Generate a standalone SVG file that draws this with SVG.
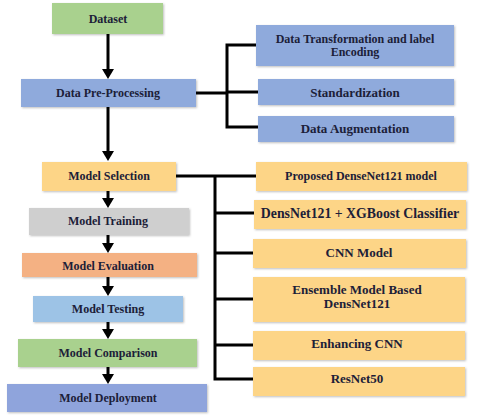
<svg xmlns="http://www.w3.org/2000/svg" width="480" height="418" viewBox="0 0 480 418">
<defs>
<style>
text{font-family:"Liberation Serif","Times New Roman",serif;font-weight:bold;fill:#1c2038;text-anchor:middle;dominant-baseline:central}
.box{filter:url(#sh)}
.ln{stroke:#000;stroke-width:3;fill:none}
.arr{stroke:#000;stroke-width:3;fill:none;marker-end:url(#ah)}
.t12{font-size:12px}
.t13{font-size:13px}
</style>
<filter id="sh" x="-10%" y="-30%" width="120%" height="160%">
<feDropShadow dx="1" dy="1" stdDeviation="1.2" flood-color="#000" flood-opacity="0.25"/>
</filter>
<marker id="ah" markerUnits="userSpaceOnUse" markerWidth="10" markerHeight="12" refX="2" refY="6" orient="auto" viewBox="0 0 10 12">
<path d="M0,0 L10,6 L0,12 z" fill="#000"/>
</marker>
</defs>
<rect width="480" height="418" fill="#fff"/>

<g id="connectors">
<line class="arr" x1="108" y1="34" x2="108" y2="71"/>
<line class="arr" x1="108" y1="107" x2="108" y2="153"/>
<line class="arr" x1="108" y1="191" x2="108" y2="200"/>
<line class="arr" x1="108" y1="235" x2="108" y2="245"/>
<line class="arr" x1="108" y1="277" x2="108" y2="288"/>
<line class="arr" x1="108" y1="322" x2="108" y2="331"/>
<line class="arr" x1="108" y1="367" x2="108" y2="376"/>
<polyline class="ln" points="196,93 227,93"/>
<polyline class="ln" points="256,45 227,45 227,127 258,127"/>
<line class="ln" x1="227" y1="92" x2="258" y2="92"/>
<line class="ln" x1="176" y1="176" x2="256" y2="176"/>
<polyline class="ln" points="215,176 215,379 253,379"/>
<line class="ln" x1="215" y1="213" x2="254" y2="213"/>
<line class="ln" x1="215" y1="253" x2="253" y2="253"/>
<line class="ln" x1="215" y1="299" x2="253" y2="299"/>
<line class="ln" x1="215" y1="345" x2="253" y2="345"/>
</g>

<g id="dataset"><rect class="box" x="52" y="3" width="111" height="31" fill="#a9d18e"/><text class="t12" x="108" y="19">Dataset</text></g>
<g id="preprocessing"><rect class="box" x="21" y="79" width="175" height="28" fill="#8faadc"/><text class="t12" x="108" y="93">Data Pre-Processing</text></g>
<g id="transformation"><rect class="box" x="256" y="25" width="198" height="41" fill="#8faadc"/><text class="t12" x="355" y="39">Data Transformation and label</text><text class="t12" x="355" y="52">Encoding</text></g>
<g id="standardization"><rect class="box" x="258" y="79" width="196" height="26" fill="#8faadc"/><text class="t13" x="355" y="92">Standardization</text></g>
<g id="augmentation"><rect class="box" x="258" y="116" width="196" height="26" fill="#8faadc"/><text class="t13" x="355" y="128">Data Augmentation</text></g>

<g id="selection"><rect class="box" x="42" y="162" width="134" height="29" fill="#fdd587"/><text class="t12" x="109" y="176">Model Selection</text></g>
<g id="training"><rect class="box" x="29" y="208" width="160" height="27" fill="#cfcfcf"/><text class="t12" x="108" y="221">Model Training</text></g>
<g id="evaluation"><rect class="box" x="22" y="253" width="175" height="24" fill="#f4b183"/><text class="t12" x="108" y="266">Model Evaluation</text></g>
<g id="testing"><rect class="box" x="33" y="296" width="150" height="26" fill="#9dc3e6"/><text class="t12" x="108" y="309">Model Testing</text></g>
<g id="comparison"><rect class="box" x="18" y="339" width="179" height="28" fill="#a9d18e"/><text class="t12" x="108" y="353">Model Comparison</text></g>
<g id="deployment"><rect class="box" x="7" y="384" width="200" height="28" fill="#8fa4dc"/><text class="t12" x="108" y="398">Model Deployment</text></g>

<g id="densenet"><rect class="box" x="256" y="162" width="211" height="29" fill="#fdd587"/><text class="t12" x="361" y="176">Proposed DenseNet121 model</text></g>
<g id="xgboost"><rect class="box" x="254" y="200" width="212" height="29" fill="#fdd587"/><text class="t13" x="360" y="213" style="font-size:13.8px">DensNet121 + XGBoost Classifier</text></g>
<g id="cnn"><rect class="box" x="253" y="239" width="213" height="29" fill="#fdd587"/><text class="t13" x="359" y="252">CNN Model</text></g>
<g id="ensemble"><rect class="box" x="253" y="277" width="212" height="45" fill="#fdd587"/><text class="t13" x="357" y="289">Ensemble Model Based</text><text class="t13" x="357" y="303">DensNet121</text></g>
<g id="enhancing"><rect class="box" x="253" y="331" width="212" height="29" fill="#fdd587"/><text class="t13" x="357" y="343">Enhancing CNN</text></g>
<g id="resnet"><rect class="box" x="253" y="367" width="212" height="29" fill="#fdd587"/><text class="t13" x="357" y="378">ResNet50</text></g>
</svg>
